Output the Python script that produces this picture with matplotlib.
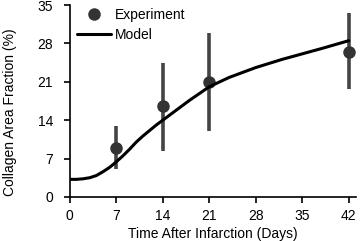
import matplotlib
matplotlib.use("Agg")
import matplotlib.pyplot as plt

plt.rcParams['font.family'] = ['Liberation Sans', 'DejaVu Sans']

exp_days = [7, 14, 21, 42]
exp_mean = [9.0, 16.6, 21.0, 26.5]
exp_low = [5.1, 8.4, 12.1, 19.6]
exp_high = [13.0, 24.5, 29.9, 33.5]

model_days = [0, 1, 2, 3, 4, 5, 6, 7, 8, 9, 10, 11, 12, 13, 14, 16, 18, 21, 24, 28, 32, 35, 38, 42]
model_vals = [3.2, 3.2, 3.3, 3.5, 3.9, 4.6, 5.4, 6.4, 7.5, 8.7, 10.0, 11.1, 12.1, 13.1, 14.0,
              15.8, 17.6, 20.1, 21.8, 23.6, 25.1, 26.1, 27.1, 28.5]

xticks = [0, 7, 14, 21, 28, 35, 42]
yticks = [0, 7, 14, 21, 28, 35]

fig = plt.figure(figsize=(3.6, 2.41), dpi=100)
ax = fig.add_axes([0.194, 0.183, 0.795, 0.796])

yerr = [[m - l for m, l in zip(exp_mean, exp_low)], [h - m for m, h in zip(exp_mean, exp_high)]]
ax.errorbar(exp_days, exp_mean, yerr=yerr, fmt='none', ecolor='#444444', elinewidth=2.6, capsize=0, zorder=2)
ax.plot(exp_days, exp_mean, 'o', color='#333333', markersize=8, zorder=3, label='Experiment')
ax.plot(model_days, model_vals, '-', color='black', linewidth=2.2, zorder=4, label='Model',
        solid_capstyle='round', solid_joinstyle='round')

ax.set_xlim(0, 43.1)
ax.set_ylim(0, 35)
ax.set_xticks(xticks)
ax.set_yticks(yticks)
for s in ['top', 'right']:
    ax.spines[s].set_visible(False)
for s in ['left', 'bottom']:
    ax.spines[s].set_linewidth(1.2)
ax.tick_params(axis='both', direction='out', length=4, width=1.2, labelsize=10)
ax.tick_params(axis='y', pad=8)
ax.tick_params(axis='x', pad=5)
ax.set_xlabel('Time After Infarction (Days)', fontsize=10)
ax.set_ylabel('Collagen Area Fraction (%)', fontsize=10)
ax.xaxis.set_label_coords(0.5, -0.193, transform=ax.transAxes)
ax.xaxis.label.set_verticalalignment('center')
ax.yaxis.set_label_coords(-0.21, 0.443, transform=ax.transAxes)
ax.yaxis.label.set_verticalalignment('center')

ax.legend(loc='upper left', bbox_to_anchor=(0.024, 0.985), frameon=False, fontsize=10,
          handlelength=2.5, handletextpad=0.25, labelspacing=0.45, borderaxespad=0.0, borderpad=0.0)

fig.savefig('out.png', dpi=100)
